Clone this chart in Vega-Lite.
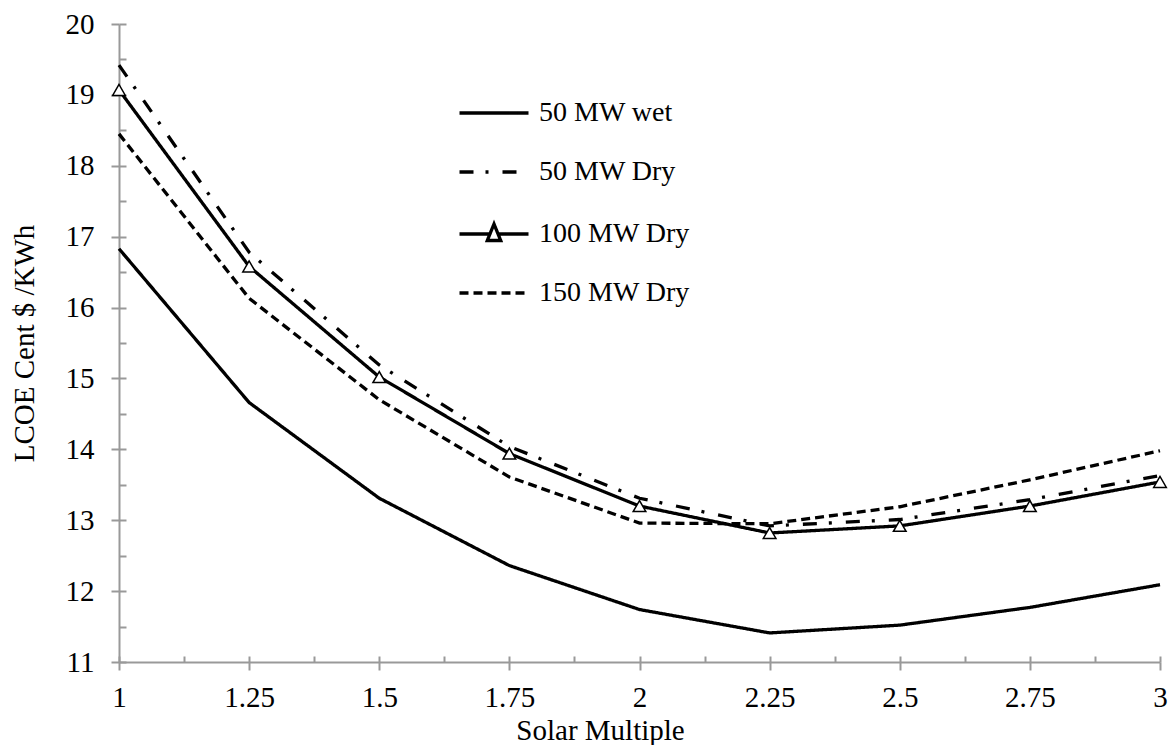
{
  "$schema": "https://vega.github.io/schema/vega-lite/v6.json",
  "width": 1041,
  "height": 638,
  "autosize": {"type": "none"},
  "padding": {"left": 119, "top": 24, "right": 14, "bottom": 83},
  "background": "white",
  "config": {"view": {"stroke": null}, "font": "Liberation Serif"},
  "data": {
    "values": [
      {"sm": 1, "lcoe": 16.83, "series": "50 MW wet"},
      {"sm": 1.25, "lcoe": 14.66, "series": "50 MW wet"},
      {"sm": 1.5, "lcoe": 13.31, "series": "50 MW wet"},
      {"sm": 1.75, "lcoe": 12.36, "series": "50 MW wet"},
      {"sm": 2, "lcoe": 11.74, "series": "50 MW wet"},
      {"sm": 2.25, "lcoe": 11.41, "series": "50 MW wet"},
      {"sm": 2.5, "lcoe": 11.52, "series": "50 MW wet"},
      {"sm": 2.75, "lcoe": 11.77, "series": "50 MW wet"},
      {"sm": 3, "lcoe": 12.09, "series": "50 MW wet"},
      {"sm": 1, "lcoe": 19.42, "series": "50 MW Dry"},
      {"sm": 1.25, "lcoe": 16.78, "series": "50 MW Dry"},
      {"sm": 1.5, "lcoe": 15.19, "series": "50 MW Dry"},
      {"sm": 1.75, "lcoe": 14.04, "series": "50 MW Dry"},
      {"sm": 2, "lcoe": 13.31, "series": "50 MW Dry"},
      {"sm": 2.25, "lcoe": 12.92, "series": "50 MW Dry"},
      {"sm": 2.5, "lcoe": 13.01, "series": "50 MW Dry"},
      {"sm": 2.75, "lcoe": 13.29, "series": "50 MW Dry"},
      {"sm": 3, "lcoe": 13.63, "series": "50 MW Dry"},
      {"sm": 1, "lcoe": 19.07, "series": "100 MW Dry"},
      {"sm": 1.25, "lcoe": 16.58, "series": "100 MW Dry"},
      {"sm": 1.5, "lcoe": 15.02, "series": "100 MW Dry"},
      {"sm": 1.75, "lcoe": 13.94, "series": "100 MW Dry"},
      {"sm": 2, "lcoe": 13.2, "series": "100 MW Dry"},
      {"sm": 2.25, "lcoe": 12.82, "series": "100 MW Dry"},
      {"sm": 2.5, "lcoe": 12.92, "series": "100 MW Dry"},
      {"sm": 2.75, "lcoe": 13.2, "series": "100 MW Dry"},
      {"sm": 3, "lcoe": 13.54, "series": "100 MW Dry"},
      {"sm": 1, "lcoe": 18.45, "series": "150 MW Dry"},
      {"sm": 1.25, "lcoe": 16.13, "series": "150 MW Dry"},
      {"sm": 1.5, "lcoe": 14.7, "series": "150 MW Dry"},
      {"sm": 1.75, "lcoe": 13.61, "series": "150 MW Dry"},
      {"sm": 2, "lcoe": 12.96, "series": "150 MW Dry"},
      {"sm": 2.25, "lcoe": 12.95, "series": "150 MW Dry"},
      {"sm": 2.5, "lcoe": 13.19, "series": "150 MW Dry"},
      {"sm": 2.75, "lcoe": 13.57, "series": "150 MW Dry"},
      {"sm": 3, "lcoe": 13.98, "series": "150 MW Dry"}
    ]
  },
  "layer": [
    {
      "mark": {"type": "line", "strokeWidth": 3.3, "color": "black"},
      "encoding": {
        "x": {
          "field": "sm", "type": "quantitative",
          "scale": {"domain": [1, 3], "nice": false, "zero": false},
          "axis": {
            "orient": "bottom", "title": "Solar Multiple",
            "values": [1, 1.25, 1.5, 1.75, 2, 2.25, 2.5, 2.75, 3],
            "labelExpr": "'' + datum.value",
            "grid": false, "domainColor": "#999999", "domainWidth": 2,
            "tickColor": "#999999", "tickWidth": 2, "tickSize": 8,
            "labelFont": "Liberation Serif", "labelFontSize": 29, "labelColor": "black",
            "labelPadding": 13, "labelFlush": false, "labelOverlap": false,
            "titleFont": "Liberation Serif", "titleFontSize": 29, "titleFontWeight": "normal",
            "titleColor": "black", "titleX": 481, "titleY": 77, "titleBaseline": "alphabetic", "titleAlign": "center"
          }
        },
        "y": {
          "field": "lcoe", "type": "quantitative",
          "scale": {"domain": [11, 20], "nice": false, "zero": false},
          "axis": {
            "orient": "left", "title": "LCOE Cent $ /KWh",
            "values": [11, 12, 13, 14, 15, 16, 17, 18, 19, 20], "format": "d",
            "grid": false, "domainColor": "#999999", "domainWidth": 2,
            "tickColor": "#999999", "tickWidth": 2, "tickSize": 8,
            "labelFont": "Liberation Serif", "labelFontSize": 29, "labelColor": "black",
            "labelPadding": 17, "labelOverlap": false,
            "titleFont": "Liberation Serif", "titleFontSize": 29, "titleFontWeight": "normal",
            "titleColor": "black", "titleX": -86, "titleY": 319, "titleAngle": -90,
            "titleBaseline": "alphabetic", "titleAlign": "center"
          }
        },
        "strokeDash": {
          "field": "series", "type": "nominal",
          "scale": {
            "domain": ["50 MW wet", "50 MW Dry", "100 MW Dry", "150 MW Dry"],
            "range": [[1, 0], [14, 12, 3, 14], [1, 0], [9, 5]]
          },
          "legend": {
            "orient": "none", "legendX": 361, "legendY": 75, "title": null,
            "padding": 0, "symbolSize": 400, "symbolType": "stroke",
            "symbolStrokeWidth": 3.3, "symbolStrokeColor": "black",
            "labelFont": "Liberation Serif", "labelFontSize": 28, "labelColor": "black",
            "labelOffset": 31, "rowPadding": 31,
            "encode": {
              "symbols": {
                "update": {
                  "shape": [
                    {"test": "datum.value === '100 MW Dry'", "value": "M-3.45,0H-0.41M0.41,0H3.45M-0.67,0.65L0,-1L0.67,0.65Z"},
                    {"value": "M-3.45,0H3.45"}
                  ],
                  "fill": {"value": "white"},
                  "stroke": {"value": "black"},
                  "strokeWidth": {"value": 3.3}
                }
              }
            }
          }
        }
      }
    },
    {
      "transform": [{"filter": "datum.series === '100 MW Dry'"}],
      "mark": {"type": "point", "shape": "triangle-up", "filled": true, "fill": "white", "stroke": "black", "strokeWidth": 1.5, "size": 160, "opacity": 1},
      "encoding": {
        "x": {
          "field": "sm", "type": "quantitative",
          "axis": {
            "orient": "bottom", "title": null, "labels": false, "domain": false, "grid": false,
            "values": [1, 1.125, 1.25, 1.375, 1.5, 1.625, 1.75, 1.875, 2, 2.125, 2.25, 2.375, 2.5, 2.625, 2.75, 2.875, 3],
            "tickSize": -6, "tickColor": "#999999", "tickWidth": 2
          }
        },
        "y": {
          "field": "lcoe", "type": "quantitative",
          "axis": {
            "orient": "left", "title": null, "labels": false, "domain": false, "grid": false,
            "values": [11, 11.5, 12, 12.5, 13, 13.5, 14, 14.5, 15, 15.5, 16, 16.5, 17, 17.5, 18, 18.5, 19, 19.5, 20],
            "tickSize": -7, "tickColor": "#999999", "tickWidth": 2
          }
        }
      }
    }
  ],
  "resolve": {"axis": {"x": "independent", "y": "independent"}}
}
